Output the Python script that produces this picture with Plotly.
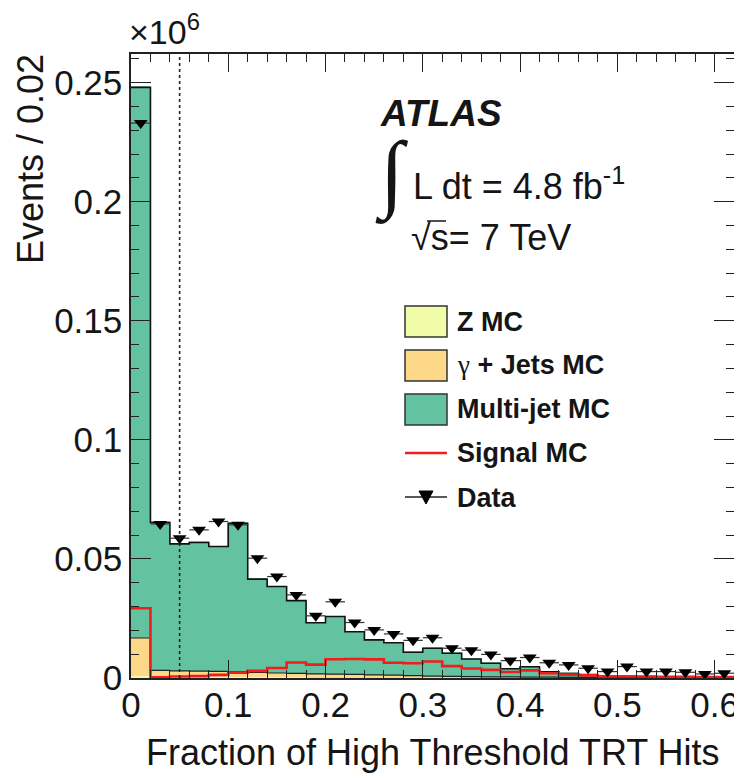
import numpy as np
import plotly.graph_objects as go

# ---------------- data (units of 10^6 events per 0.02) ----------------
bin_width = 0.02
x_max = 0.62

z_mc = [0.0008, 0.0004, 0.0004, 0.0004, 0.0003, 0.0003, 0.0003, 0.0003, 0.0003, 0.0002,
        0.0002, 0.0002, 0.0002, 0.0002, 0.0002, 0.0001, 0.0001, 0.0001, 0.0001, 0.0001,
        0.0001, 0.0001, 0.0001, 0.0001, 0.0001, 0.0001, 0.0001, 0.0001, 0.0001, 0.0001, 0.0001]

gamma_jets_mc = [0.0160, 0.0028, 0.0026, 0.0025, 0.0025, 0.0023, 0.0020, 0.0018, 0.0016, 0.0015,
                 0.0014, 0.0013, 0.0011, 0.0010, 0.0008, 0.0007, 0.0006, 0.0005, 0.0004, 0.0004,
                 0.0003, 0.0003, 0.0002, 0.0002, 0.0002, 0.0001, 0.0001, 0.0001, 0.0001, 0.0001, 0.0001]

multijet_mc = [0.2312, 0.0621, 0.0533, 0.0540, 0.0524, 0.0624, 0.0392, 0.0363, 0.0306, 0.0215,
               0.0242, 0.0179, 0.0147, 0.0136, 0.0098, 0.0117, 0.0097, 0.0074, 0.0057, 0.0034,
               0.0043, 0.0022, 0.0016, 0.0011, 0.0006, 0.0005, 0.0004, 0.0003, 0.0002, 0.0002, 0.0001]

signal_mc = [0.0293, 0.0003, 0.0006, 0.0008, 0.0013, 0.0022, 0.0030, 0.0042, 0.0065, 0.0056,
             0.0079, 0.0080, 0.0078, 0.0064, 0.0062, 0.0069, 0.0050, 0.0040, 0.0034, 0.0025,
             0.0032, 0.0020, 0.0014, 0.0011, 0.0007, 0.0006, 0.0006, 0.0005, 0.0005, 0.0004, 0.0004]

data = [0.2330, 0.0647, 0.0587, 0.0622, 0.0657, 0.0643, 0.0503, 0.0426, 0.0349, 0.0261,
        0.0320, 0.0233, 0.0202, 0.0185, 0.0158, 0.0169, 0.0125, 0.0117, 0.0099, 0.0073,
        0.0086, 0.0064, 0.0055, 0.0041, 0.0027, 0.0048, 0.0027, 0.0027, 0.0024, 0.0017, 0.0020]

x_ticks = [0, 0.1, 0.2, 0.3, 0.4, 0.5, 0.6]
y_ticks = [0, 0.05, 0.1, 0.15, 0.2, 0.25]
y_tick_labels = ["0", "0.05", "0.1", "0.15", "0.2", "0.25"]
cut_value = 0.05
y_max = 0.262

# ---------------- derived ----------------
nb = len(data)
edges = np.arange(nb + 1) * bin_width
centers = edges[:-1] + bin_width / 2
zg_top = np.array(z_mc) + np.array(gamma_jets_mc)
total = zg_top + np.array(multijet_mc)

def step(vals):
    v = list(vals)
    return v + [v[-1]]

FONT = "Liberation Sans, Arial, Helvetica, sans-serif"
SERIF = "Liberation Serif, Times New Roman, serif"
C_Z = "#f0fca8"
C_G = "#fdd888"
C_M = "#63c29f"
C_S = "#f21c1c"
TXT = "#151515"

fig = go.Figure()
for vals, col, name in [(z_mc, C_Z, "Z MC"), (gamma_jets_mc, C_G, "γ + Jets MC"),
                        (multijet_mc, C_M, "Multi-jet MC")]:
    fig.add_trace(go.Bar(x=centers, y=vals, width=bin_width, name=name,
                         marker=dict(color=col, line=dict(color=col, width=0.6)),
                         showlegend=False, hoverinfo="skip"))

fig.add_trace(go.Scatter(x=edges, y=step(zg_top), mode="lines", line_shape="hv",
                         line=dict(color="#222", width=1.2), showlegend=False, hoverinfo="skip"))
fig.add_trace(go.Scatter(x=edges, y=step(total), mode="lines", line_shape="hv",
                         line=dict(color="#111", width=1.6), showlegend=False, hoverinfo="skip"))
fig.add_trace(go.Scatter(x=edges, y=step(signal_mc), mode="lines", line_shape="hv",
                         line=dict(color=C_S, width=2.6), showlegend=False, name="Signal MC"))
fig.add_trace(go.Scatter(x=centers, y=data, mode="markers", name="Data",
                         marker=dict(symbol="triangle-down", size=12, color="black"),
                         error_x=dict(type="constant", value=bin_width / 2, thickness=1.2,
                                      width=0, color="#333"),
                         showlegend=False))

# ---------------- layout ----------------
# screen-pixel geometry of the plot frame; the page body adds an 8px offset
OFF = 8
SW, SH = 742, 782
L, R, T, B = 131, 734, 54, 678
W, H = SW - OFF, SH - OFF

def px(xp):
    return (xp - L) / (R - L)

def py(yp):
    return (B - yp) / (B - T)

shapes = [dict(type="line", xref="x", yref="paper", x0=cut_value, x1=cut_value, y0=0, y1=1,
               line=dict(color="#222", width=1.6, dash="dot"), layer="above")]
annotations = []

# legend (manual)
leg_x0, leg_x1 = 405, 447
LEG_FS = 27
boxes = [(C_Z, 306, 337, "<b>Z MC</b>", 322),
         (C_G, 350, 381, "<span style='font-family:Liberation Serif'>γ</span><b> + Jets MC</b>", 365),
         (C_M, 394, 425, "<b>Multi-jet MC</b>", 409)]
for col, y0, y1, txt, ty in boxes:
    shapes.append(dict(type="rect", xref="paper", yref="paper", x0=px(leg_x0), x1=px(leg_x1),
                       y0=py(y1), y1=py(y0), fillcolor=col, line=dict(color="#333", width=1.5),
                       layer="above"))
    annotations.append(dict(xref="paper", yref="paper", x=px(455), y=py(ty), text=txt,
                            showarrow=False, xanchor="left", yanchor="middle",
                            font=dict(family=FONT, size=LEG_FS, color=TXT)))
shapes.append(dict(type="line", xref="paper", yref="paper", x0=px(leg_x0), x1=px(leg_x1),
                   y0=py(453), y1=py(453), line=dict(color=C_S, width=2.6)))
annotations.append(dict(xref="paper", yref="paper", x=px(455), y=py(453), text="<b>Signal MC</b>",
                        showarrow=False, xanchor="left", yanchor="middle",
                        font=dict(family=FONT, size=LEG_FS, color=TXT)))
shapes.append(dict(type="line", xref="paper", yref="paper", x0=px(leg_x0), x1=px(leg_x1),
                   y0=py(497), y1=py(497), line=dict(color="#222", width=1.5)))
mx, my = 426, 497
shapes.append(dict(type="path", xref="paper", yref="paper",
                   path="M %f,%f L %f,%f L %f,%f Z" % (px(mx - 7), py(my - 6), px(mx + 7), py(my - 6),
                                                       px(mx), py(my + 7)),
                   fillcolor="black", line=dict(color="black", width=1)))
annotations.append(dict(xref="paper", yref="paper", x=px(455), y=py(498), text="<b>Data</b>",
                        showarrow=False, xanchor="left", yanchor="middle",
                        font=dict(family=FONT, size=LEG_FS, color=TXT)))

# overbar of the square root
shapes.append(dict(type="line", xref="paper", yref="paper", x0=px(427), x1=px(446),
                   y0=py(221), y1=py(221), line=dict(color=TXT, width=1.5)))

# ATLAS labels
annotations += [
    dict(xref="paper", yref="paper", x=px(378), y=py(113), text="<b><i>ATLAS</i></b>",
         showarrow=False, xanchor="left", yanchor="middle", font=dict(family=FONT, size=37, color=TXT)),
    dict(xref="paper", yref="paper", x=px(373), y=py(174), text="∫",
         showarrow=False, xanchor="left", yanchor="middle", font=dict(family=SERIF, size=86, color=TXT)),
    dict(xref="paper", yref="paper", x=px(411), y=py(184), text="L dt = 4.8 fb<sup>-1</sup>",
         showarrow=False, xanchor="left", yanchor="middle", font=dict(family=FONT, size=36, color=TXT)),
    dict(xref="paper", yref="paper", x=px(409), y=py(238), text="√s= 7 TeV",
         showarrow=False, xanchor="left", yanchor="middle", font=dict(family=FONT, size=36, color=TXT)),
    dict(xref="paper", yref="paper", x=px(127), y=py(53), text="×10<sup>6</sup>",
         showarrow=False, xanchor="left", yanchor="bottom", font=dict(family=FONT, size=34, color=TXT)),
    dict(xref="paper", yref="paper", x=px(30), y=py(52), text="Events / 0.02", textangle=-90,
         showarrow=False, xanchor="center", yanchor="top", font=dict(family=FONT, size=36, color=TXT)),
    dict(xref="paper", yref="paper", x=px(722), y=py(752), text="Fraction of High Threshold TRT Hits",
         showarrow=False, xanchor="right", yanchor="middle", font=dict(family=FONT, size=36, color=TXT)),
]

fig.update_layout(
    width=W, height=H,
    margin=dict(l=L - OFF, r=W - (R - OFF), t=T - OFF, b=H - (B - OFF), autoexpand=False),
    paper_bgcolor="white", plot_bgcolor="white",
    barmode="stack", bargap=0, bargroupgap=0,
    showlegend=False,
    font=dict(family=FONT, size=35, color=TXT),
    shapes=shapes, annotations=annotations,
    xaxis=dict(range=[0, x_max], tickvals=x_ticks, ticks="inside", ticklen=18, tickwidth=1.3,
               tickcolor="#222", showline=True, linecolor="#222", linewidth=1.5, mirror="ticks",
               showgrid=False, zeroline=False, automargin=False, ticklabelstandoff=-5,
               minor=dict(dtick=bin_width, tick0=0, ticks="inside", ticklen=8, tickwidth=1.1,
                          tickcolor="#222", showgrid=False),
               tickfont=dict(family=FONT, size=35, color=TXT)),
    yaxis=dict(range=[0, y_max], tickvals=y_ticks, ticktext=y_tick_labels, ticks="inside",
               ticklen=20, tickwidth=1.3, tickcolor="#222", showline=True, linecolor="#222",
               linewidth=1.5, mirror="ticks", showgrid=False, zeroline=False, automargin=False,
               minor=dict(dtick=0.01, tick0=0, ticks="inside", ticklen=8, tickwidth=1.1,
                          tickcolor="#222", showgrid=False),
               tickfont=dict(family=FONT, size=35, color=TXT)),
)

fig.write_html("out.html")
